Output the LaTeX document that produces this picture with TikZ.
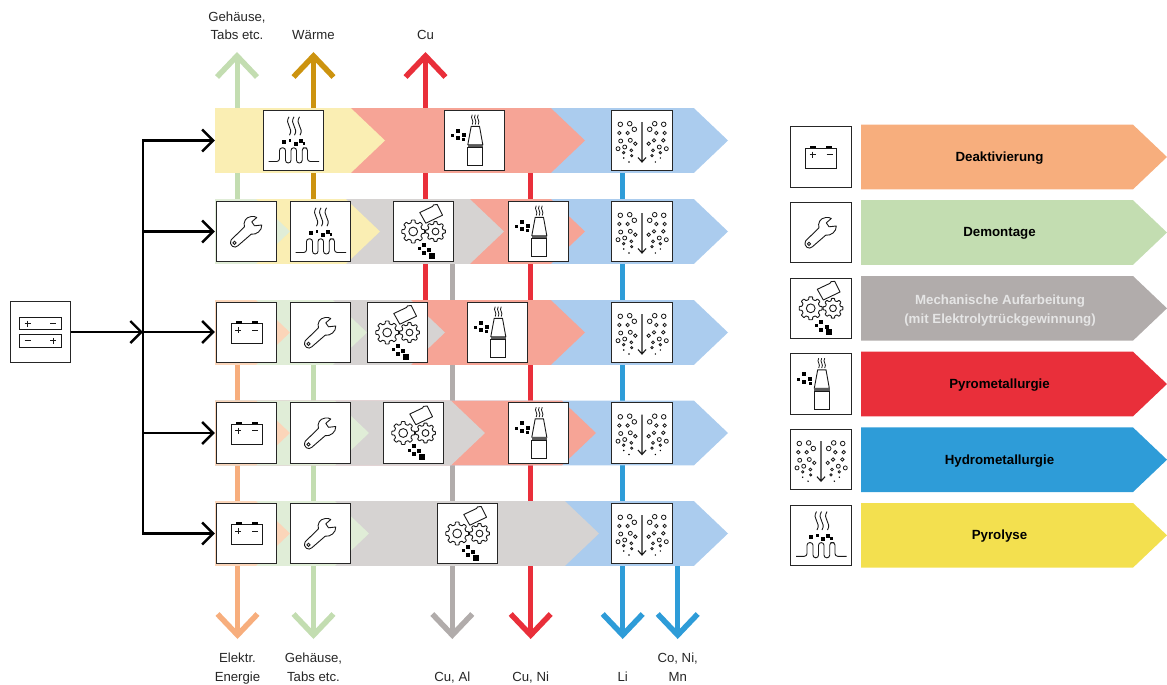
\documentclass[tikz,border=0pt]{standalone}
\usepackage{fontspec}
\setmainfont{Liberation Sans}
\usetikzlibrary{arrows.meta}

\definecolor{deakcol}{HTML}{F7AE7D}
\definecolor{democol}{HTML}{C3DDB1}
\definecolor{mechcol}{HTML}{B1ACAB}
\definecolor{pyrocol}{HTML}{E92F3A}
\definecolor{hydrocol}{HTML}{2E9CD8}
\definecolor{lysecol}{HTML}{F3E04F}
\definecolor{heatcol}{HTML}{CC930F}
\definecolor{deakpale}{HTML}{FBD5B9}
\definecolor{demopale}{HTML}{E0EDD7}
\definecolor{mechpale}{HTML}{D6D3D2}
\definecolor{pyropale}{HTML}{F6A496}
\definecolor{hydropale}{HTML}{ABCCEE}
\definecolor{lysepale}{HTML}{FAEEB3}

\pgfdeclarelayer{flows}
\pgfdeclarelayer{bands}
\pgfsetlayers{flows,bands,main}

% one band of a row, from the left edge to the given tip
\newcommand{\bandpart}[3]{\fill[#1] (215,#2-32.3) -- (#3-34,#2-32.3) -- (#3,#2) -- (#3-34,#2+32.3) -- (215,#2+32.3) -- cycle;}
% one entry of the legend
\newcommand{\legendpart}[2]{\fill[#1] (861,#2-32.3) -- (1133,#2-32.3) -- (1167,#2) -- (1133,#2+32.3) -- (861,#2+32.3) -- cycle;}

\tikzset{
	iconbox/.style={draw=black!85,fill=white,line width=1pt,minimum size=60.3pt,inner sep=0pt,outer sep=0pt},
	feed/.style={line width=2.4pt,>={Straight Barb[length=11pt,width=22pt]},->,shorten >=1.5pt},
	flowout/.style={line width=5pt,-{Straight Barb[length=21pt,width=40pt,line width=5.5pt]}},
	flowlabel/.style={anchor=base,align=center,text=black!85,font=\fontsize{13.2}{18.5}\selectfont},
	legendlabel/.style={align=center,font=\bfseries\fontsize{13.3}{19}\selectfont},
	icon/.style={line width=.9pt,black!90},
	battery/.pic={
		\draw[icon] (-15.5,-8.7) rectangle (15.5,11);
		\fill (-10.7,-11.4) rectangle (-4.7,-8.7);
		\fill (5.3,-11.4) rectangle (11.3,-8.7);
		\draw[icon] (-11.3,-2.3) -- (-5.3,-2.3) (-8.3,-5.3) -- (-8.3,.7);
		\draw[icon] (5.7,-2.3) -- (11.7,-2.3);
	},
	twocells/.pic={
		\draw[icon] (-21,-14.8) rectangle (21,-2.5);
		\draw[icon] (-21,2.5) rectangle (21,15);
		\draw[icon] (-15.8,-8.5) -- (-9.8,-8.5) (-12.8,-11.5) -- (-12.8,-5.5);
		\draw[icon] (9.5,-8.5) -- (15.5,-8.5);
		\draw[icon] (-15.8,8.8) -- (-9.8,8.8);
		\draw[icon] (9.5,8.8) -- (15.5,8.8) (12.5,5.8) -- (12.5,11.8);
	},
	wrench/.pic={
		\draw[icon,line join=round] (-2,-4.7) .. controls (-3.5,-9) and (-1,-14.5) .. (4.7,-15)
			.. controls (6.5,-15.3) and (9,-15) .. (10.3,-14) -- (5.3,-9.7) -- (8,-5.7) -- (15.3,-6.5)
			.. controls (15.5,-1) and (10,3.5) .. (4.7,2.7) -- (-8.7,14.3)
			.. controls (-11.5,17.5) and (-18,14.5) .. (-15.3,8.3) -- cycle;
		\draw[icon] (-12,11.3) circle (1.6);
	},
	gearicon/.pic={
		\begin{scope}[xshift=-10.3pt]
			\draw[icon,rounded corners=.5pt] (-22.5:8.8) \foreach \ga in {0,45,...,315} { -- (\ga-13:9) -- (\ga-9:11.6) -- (\ga+9:11.6) -- (\ga+13:9) -- (\ga+22.5:8.8)} -- cycle;
			\draw[icon] (0,0) circle (4.4);
		\end{scope}
		\begin{scope}[xshift=12pt]
			\draw[icon,rounded corners=.5pt] (-22.5:7.6) \foreach \ga in {0,45,...,315} { -- (\ga-13:7.8) -- (\ga-9:10) -- (\ga+9:10) -- (\ga+13:7.8) -- (\ga+22.5:7.6)} -- cycle;
			\draw[icon] (0,0) circle (3.4);
		\end{scope}
		\draw[icon,line join=round] (-3.7,-19) -- (9,-25) -- (10,-26.6) -- (13.7,-27) -- (19,-16.3) -- (2.3,-8.3) -- cycle;
		\foreach \qx/\qy/\qs in {0/13.3/4,-4.3/17.3/2.7,0/21.3/4,5.7/18.3/4,8/24/6}
			\fill (\qx-\qs/2,\qy-\qs/2) rectangle ++(\qs,\qs);
	},
	pyroicon/.pic={
		\draw[icon] (-3.3,-14.2) -- (5,-14.2) -- (8.3,4.2) -- (-6.7,4.2) -- cycle;
		\fill[black!65] (-6.9,4.2) rectangle (8.5,7.2);
		\draw[icon] (-6.7,7.2) rectangle (8.3,25.2);
		\foreach \sx in {-2.3,.7,3.7}
			\draw[line width=.8pt,black!90] (\sx,-25.8) .. controls (\sx-2.5,-22) and (\sx+2.5,-20) .. (\sx,-16);
		\foreach \qx/\qy/\qs in {-17/-10/4,-22.3/-4.8/2.7,-17/-2.2/4,-11/-5.2/4,-10.7/-.8/2.7}
			\fill (\qx-\qs/2,\qy-\qs/2) rectangle ++(\qs,\qs);
	},
	hydroicon/.pic={
		\draw[line width=1.1pt,black!90] (0,-18.5) -- (0,21.5) (-4,17) -- (0,21.5) -- (4,17);
		\foreach \bx/\by/\br in {-21.7/-16.2/2.3,-12.3/-16.8/2.3,-22.7/-7.5/1.7,-14.3/-7.5/1.7,-7.7/-11.2/2.3,-21.3/.5/2,-11.7/-.2/2,-6.7/3.2/1.7,-24/8.2/2,-17.3/6.5/2,-18.3/12.2/1.2,-10.7/9.8/1.4,-10.3/15.2/1.1,
			12.7/-16.8/2.3,21.7/-16.2/2.3,7.7/-11.2/2.3,14.3/-7.5/1.7,22.7/-7.5/1.7,12/-.2/1.7,21.3/-.2/1.7,6.7/3.2/1.7,17.3/6.5/2,24.3/8.2/2,11/9.8/1.4,18.3/12.2/1.2,10/15.2/1.2}
			\draw[line width=.8pt,black!90] (\bx,\by) circle (\br);
		\foreach \bx/\by in {-18.3/17.5,-13/21.5,18.3/17.5,13.3/21.5}
			\fill (\bx,\by) circle (.8);
	},
	lyseicon/.pic={
		\draw[icon,rounded corners=2.7pt] (-25,21) -- (-14,21) -- (-14,7.3) -- (-8,7.3) -- (-8,22.5) -- (-2.5,22.5)
			-- (-2.5,7.3) -- (3,7.3) -- (3,22.5) -- (8.7,22.5) -- (8.7,7.3) -- (14,7.3) -- (14,21) -- (25.5,21);
		\foreach \sx in {-4.5,.5,6}
			\draw[line width=.9pt,black!90] (\sx,-23.7) .. controls (\sx-5,-16) and (\sx+5,-13) .. (\sx+.5,-5.3);
		\foreach \qx/\qy/\qs in {-10/1.7/4,-3.5/0/2.7,2.2/3.7/4,7.2/.7/4,10.5/3.3/2.7}
			\fill (\qx-\qs/2,\qy-\qs/2) rectangle ++(\qs,\qs);
	}
}

\begin{document}
\begin{tikzpicture}[x=1pt,y=-1pt]
	\useasboundingbox (0,0) rectangle (1167,685);

	% source
	\node[iconbox] (src) at (40.5,332) {};
	\pic at (src) {twocells};

	% row 1
	\node[iconbox] (rowAlyse) at (293.5,140.5) {};
	\node[iconbox] (rowApyro) at (474.5,140.5) {};
	\node[iconbox] (rowAhydro) at (642,140.5) {};
	\pic at (rowAlyse) {lyseicon};
	\pic at (rowApyro) {pyroicon};
	\pic at (rowAhydro) {hydroicon};

	% row 2
	\node[iconbox] (rowBdemo) at (246.5,231.5) {};
	\node[iconbox] (rowBlyse) at (320.5,231.5) {};
	\node[iconbox] (rowBmech) at (423.5,231.5) {};
	\node[iconbox] (rowBpyro) at (538.5,231.5) {};
	\node[iconbox] (rowBhydro) at (642,231.5) {};
	\pic at (rowBdemo) {wrench};
	\pic at (rowBlyse) {lyseicon};
	\pic at (rowBmech) {gearicon};
	\pic at (rowBpyro) {pyroicon};
	\pic at (rowBhydro) {hydroicon};

	% row 3
	\node[iconbox] (rowCdeak) at (246.5,332.5) {};
	\node[iconbox] (rowCdemo) at (320.5,332.5) {};
	\node[iconbox] (rowCmech) at (397.5,332.5) {};
	\node[iconbox] (rowCpyro) at (497.5,332.5) {};
	\node[iconbox] (rowChydro) at (642,332.5) {};
	\pic at (rowCdeak) {battery};
	\pic at (rowCdemo) {wrench};
	\pic at (rowCmech) {gearicon};
	\pic at (rowCpyro) {pyroicon};
	\pic at (rowChydro) {hydroicon};

	% row 4
	\node[iconbox] (rowDdeak) at (246.5,433) {};
	\node[iconbox] (rowDdemo) at (320.5,433) {};
	\node[iconbox] (rowDmech) at (413.5,433) {};
	\node[iconbox] (rowDpyro) at (538.5,433) {};
	\node[iconbox] (rowDhydro) at (642,433) {};
	\pic at (rowDdeak) {battery};
	\pic at (rowDdemo) {wrench};
	\pic at (rowDmech) {gearicon};
	\pic at (rowDpyro) {pyroicon};
	\pic at (rowDhydro) {hydroicon};

	% row 5
	\node[iconbox] (rowEdeak) at (246.5,533.5) {};
	\node[iconbox] (rowEdemo) at (320.5,533.5) {};
	\node[iconbox] (rowEmech) at (467.5,533.5) {};
	\node[iconbox] (rowEhydro) at (642,533.5) {};
	\pic at (rowEdeak) {battery};
	\pic at (rowEdemo) {wrench};
	\pic at (rowEmech) {gearicon};
	\pic at (rowEhydro) {hydroicon};

	% bands
	\begin{pgfonlayer}{bands}
		\bandpart{hydropale}{140.5}{728}
		\bandpart{pyropale}{140.5}{585}
		\bandpart{lysepale}{140.5}{385}

		\bandpart{hydropale}{231.5}{728}
		\bandpart{pyropale}{231.5}{585}
		\bandpart{mechpale}{231.5}{504}
		\bandpart{lysepale}{231.5}{380}
		\bandpart{demopale}{231.5}{290}

		\bandpart{hydropale}{332.5}{728}
		\bandpart{pyropale}{332.5}{585}
		\bandpart{mechpale}{332.5}{445}
		\bandpart{demopale}{332.5}{367}
		\bandpart{deakpale}{332.5}{290}

		\bandpart{hydropale}{433}{728}
		\bandpart{pyropale}{433}{596}
		\bandpart{mechpale}{433}{485}
		\bandpart{demopale}{433}{369}
		\bandpart{deakpale}{433}{290}

		\bandpart{hydropale}{533.5}{728}
		\bandpart{mechpale}{533.5}{599}
		\bandpart{demopale}{533.5}{369}
		\bandpart{deakpale}{533.5}{290}
	\end{pgfonlayer}

	% feed lines
	\coordinate (trunk) at (143,332);
	\draw[feed,shorten >=0pt] (src.east) -- (trunk);
	\draw[feed] (trunk) -- (rowCdeak.west |- trunk);
	\draw[feed,<->,shorten <=1.5pt] (rowEdeak) -- (trunk |- rowEdeak) -- (trunk |- rowBdemo) -- (trunk |- rowAlyse) -- (rowBdemo.west |- rowAlyse);
	\draw[feed] (trunk |- rowBdemo) -- (rowBdemo);
	\draw[feed] (trunk |- rowDdeak) -- (rowDdeak);

	% outputs, top
	\coordinate (tipCase) at (237,52);
	\coordinate (tipHeat) at (313.5,52);
	\coordinate (tipCu) at (425.5,52);
	\node[flowlabel] (txtCase) at (237,40) {Gehäuse,\\Tabs etc.};
	\node[flowlabel] (txtHeat) at (313.5,40) {Wärme};
	\node[flowlabel] (txtCu) at (425.5,40) {Cu};

	% outputs, bottom
	\coordinate (tipPower) at (237.5,639);
	\coordinate (tipShell) at (313.5,639);
	\coordinate (tipCuAl) at (452.3,639);
	\coordinate (tipCuNi) at (530.7,639);
	\coordinate (tipLi) at (622.7,639);
	\coordinate (tipCoNi) at (677.7,639);
	\node[flowlabel] (txtPower) at (237.5,681) {Elektr.\\Energie};
	\node[flowlabel] (txtShell) at (313.5,681) {Gehäuse,\\Tabs etc.};
	\node[flowlabel] (txtCuAl) at (452.3,681) {Cu, Al};
	\node[flowlabel] (txtCuNi) at (530.7,681) {Cu, Ni};
	\node[flowlabel] (txtLi) at (622.7,681) {Li};
	\node[flowlabel] (txtCoNi) at (677.7,681) {Co, Ni,\\Mn};

	\begin{pgfonlayer}{flows}
		\draw[flowout,democol] (rowBdemo.north -| tipCase) -- (tipCase);
		\draw[flowout,heatcol] (rowBlyse.north -| tipHeat) -- (tipHeat);
		\draw[flowout,pyrocol] (rowCmech.north -| tipCu) -- (tipCu);
		\draw[flowout,deakcol] (rowCdeak.south -| tipPower) -- (tipPower);
		\draw[flowout,democol] (rowCdemo.south -| tipShell) -- (tipShell);
		\draw[flowout,mechcol] (rowBmech.south -| tipCuAl) -- (tipCuAl);
		\draw[flowout,pyrocol] (rowApyro.south -| tipCuNi) -- (tipCuNi);
		\draw[flowout,hydrocol] (rowAhydro.south -| tipLi) -- (tipLi);
		\draw[flowout,hydrocol] (rowEhydro.south -| tipCoNi) -- (tipCoNi);
	\end{pgfonlayer}

	% legend
	\node[iconbox] (keyDeak) at (821,157) {};
	\node[iconbox] (keyDemo) at (821,232.5) {};
	\node[iconbox] (keyMech) at (821,308.3) {};
	\node[iconbox] (keyPyro) at (821,384) {};
	\node[iconbox] (keyHydro) at (821,459.7) {};
	\node[iconbox] (keyLyse) at (821,535.3) {};
	\pic at (keyDeak) {battery};
	\pic at (keyDemo) {wrench};
	\pic at (keyMech) {gearicon};
	\pic at (keyPyro) {pyroicon};
	\pic at (keyHydro) {hydroicon};
	\pic at (keyLyse) {lyseicon};

	\legendpart{deakcol}{157}
	\legendpart{democol}{232.5}
	\legendpart{mechcol}{308.3}
	\legendpart{pyrocol}{384}
	\legendpart{hydrocol}{459.7}
	\legendpart{lysecol}{535.3}

	\node[legendlabel] (txtDeak) at (999.5,158.5) {Deaktivierung};
	\node[legendlabel] (txtDemo) at (999.5,233.5) {Demontage};
	\node[legendlabel,text=white!90!black] (txtMech) at (1000,310.5) {Mechanische Aufarbeitung\\(mit Elektrolytrückgewinnung)};
	\node[legendlabel] (txtPyro) at (999.5,385.5) {Pyrometallurgie};
	\node[legendlabel] (txtHydro) at (999.5,461) {Hydrometallurgie};
	\node[legendlabel] (txtLyse) at (999.5,536.5) {Pyrolyse};
\end{tikzpicture}
\end{document}
